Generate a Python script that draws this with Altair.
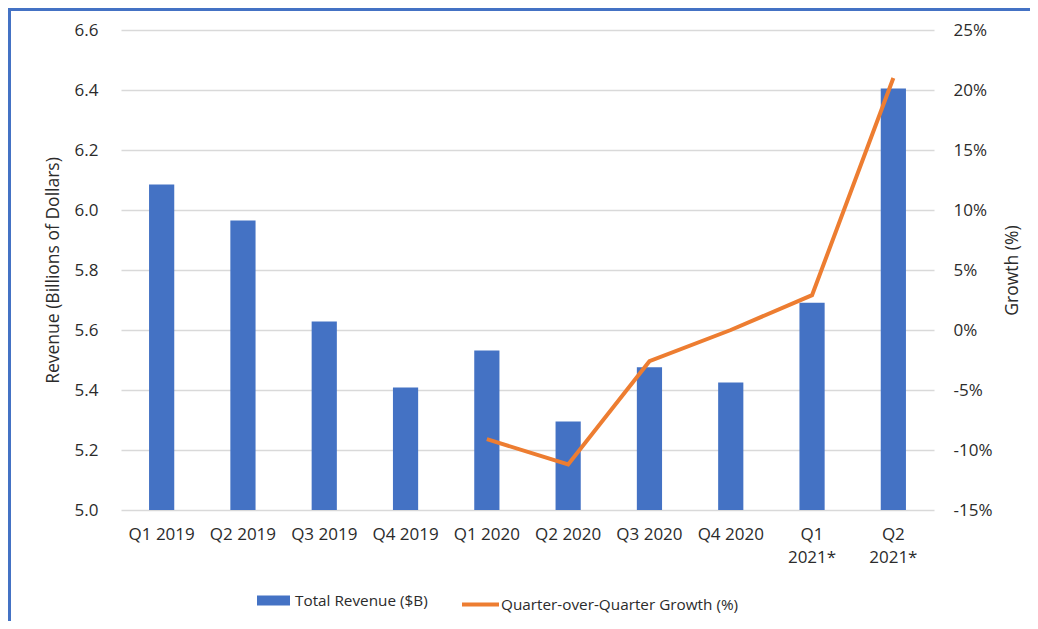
import altair as alt
import pandas as pd

quarters = ["Q1 2019", "Q2 2019", "Q3 2019", "Q4 2019", "Q1 2020",
            "Q2 2020", "Q3 2020", "Q4 2020", "Q1 2021*", "Q2 2021*"]
revenue = [6.085, 5.965, 5.628, 5.408, 5.532, 5.295, 5.476, 5.425, 5.691, 6.405]
growth = [None, None, None, None, -9.1, -11.2, -2.6, 0.0, 2.9, 21.0]

rev_ticks = [5.0, 5.2, 5.4, 5.6, 5.8, 6.0, 6.2, 6.4, 6.6]
growth_ticks = [-15, -10, -5, 0, 5, 10, 15, 20, 25]

bar_name = "Total Revenue ($B)"
line_name = "Quarter-over-Quarter Growth (%)"

df = pd.DataFrame({"quarter": quarters, "revenue": revenue, "growth": growth})
df["bar_series"] = bar_name
df["line_series"] = line_name

FONT = "Open Sans"
TXT = "#2b2b2b"
BLUE = "#4472C4"
ORANGE = "#ED7D31"

x_enc = alt.X(
    "quarter:N",
    sort=quarters,
    scale=alt.Scale(paddingInner=0.69, paddingOuter=0.345, round=False),
    axis=alt.Axis(
        title=None, labelAngle=0, domain=False, ticks=False,
        labelPadding=16, labelLineHeight=23,
        labelExpr="indexof(datum.label, '*') >= 0 ? split(datum.label, ' ') : datum.label",
    ),
)

bars = alt.Chart(df).mark_bar(color=BLUE, clip=True).encode(
    x=x_enc,
    y=alt.Y(
        "revenue:Q",
        scale=alt.Scale(domain=[5.0, 6.6], zero=False, nice=False),
        axis=alt.Axis(
            values=rev_ticks, format=".1f", grid=True, gridColor="#D9D9D9",
            gridWidth=1.3, domain=False, ticks=False, labelPadding=23,
            title="Revenue (Billions of Dollars)", titlePadding=12,
        ),
    ),
    color=alt.Color(
        "bar_series:N",
        scale=alt.Scale(range=[BLUE]),
        legend=alt.Legend(
            title=None, orient="none", legendX=136, legendY=554,
            symbolType="M-1,-0.3H1V0.3H-1Z", symbolSize=1089,
            symbolStrokeWidth=0, labelOffset=5, padding=0, labelLimit=400,
        ),
    ),
)

line = alt.Chart(df).transform_filter("isValid(datum.growth)").mark_line(
    strokeWidth=4
).encode(
    x=alt.X("quarter:N", sort=quarters),
    y=alt.Y(
        "growth:Q",
        scale=alt.Scale(domain=[-15, 25], zero=False, nice=False),
        axis=alt.Axis(
            orient="right", values=growth_ticks, labelExpr="datum.value + '%'",
            grid=False, domain=False, ticks=False, labelPadding=19,
            title="Growth (%)", titleAngle=270, titleBaseline="top", titlePadding=12,
        ),
    ),
    stroke=alt.Stroke(
        "line_series:N",
        scale=alt.Scale(range=[ORANGE]),
        legend=alt.Legend(
            title=None, orient="none", legendX=339, legendY=554,
            symbolType="stroke", symbolSize=1369, symbolStrokeWidth=4,
            labelOffset=0, padding=0, labelLimit=400,
        ),
    ),
)

frame_src = alt.Data(values=[{}])
frame_left = alt.Chart(frame_src).mark_rule(color=BLUE, strokeWidth=3).encode(
    x=alt.value(-111.5), y=alt.value(-22), y2=alt.value(591)
)
frame_top = alt.Chart(frame_src).mark_rule(color=BLUE, strokeWidth=3).encode(
    x=alt.value(-113), x2=alt.value(909), y=alt.value(-20.5)
)

chart = (
    alt.layer(bars, line, frame_left, frame_top)
    .resolve_scale(y="independent", color="independent", stroke="independent")
    .properties(
        width=813, height=480,
        autosize=alt.AutoSizeParams(type="none"),
        padding={"left": 113, "top": 22, "right": 96, "bottom": 111},
    )
    .configure_view(stroke=None)
    .configure_axis(
        labelFont=FONT, labelFontSize=17, labelColor=TXT,
        titleFont=FONT, titleFontSize=17.5, titleFontWeight="normal", titleColor=TXT,
    )
    .configure_legend(labelFont=FONT, labelFontSize=15.3, labelColor=TXT)
)

chart.save("out.html", embed_options={"renderer": "svg", "actions": False})
